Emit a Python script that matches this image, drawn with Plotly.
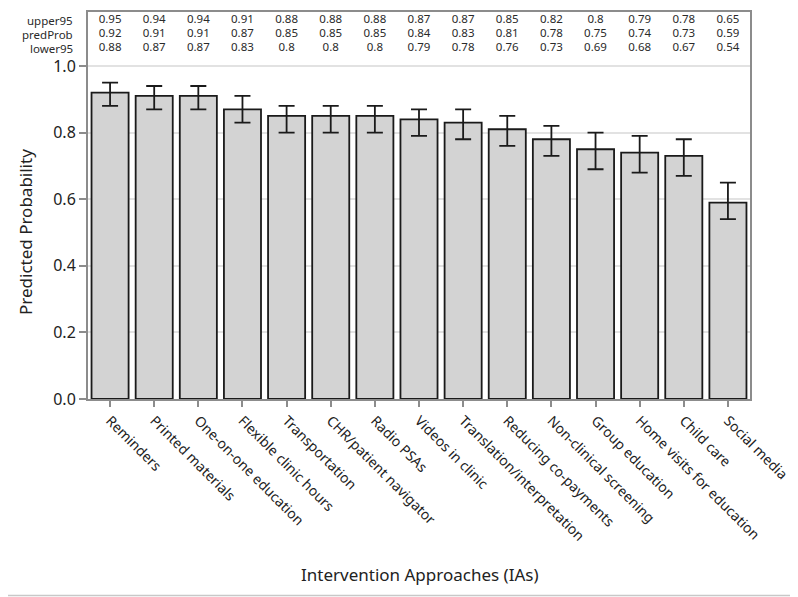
import plotly.graph_objects as go

categories = ["Reminders", "Printed materials", "One-on-one education", "Flexible clinic hours",
              "Transportation", "CHR/patient navigator", "Radio PSAs", "Videos in clinic",
              "Translation/interpretation", "Reducing co-payments", "Non-clinical screening",
              "Group education", "Home visits for education", "Child care", "Social media"]
upper95 = [0.95, 0.94, 0.94, 0.91, 0.88, 0.88, 0.88, 0.87, 0.87, 0.85, 0.82, 0.8, 0.79, 0.78, 0.65]
predProb = [0.92, 0.91, 0.91, 0.87, 0.85, 0.85, 0.85, 0.84, 0.83, 0.81, 0.78, 0.75, 0.74, 0.73, 0.59]
lower95 = [0.88, 0.87, 0.87, 0.83, 0.8, 0.8, 0.8, 0.79, 0.78, 0.76, 0.73, 0.69, 0.68, 0.67, 0.54]
row_labels = ["upper95", "predProb", "lower95"]
y_ticks = [0.0, 0.2, 0.4, 0.6, 0.8, 1.0]

FONT = "Noto Sans"
OFF = 8  # page body margin
W, H = 798 - OFF, 597 - OFF
ML, MR, MT, MB = 88 - OFF, 48, 12 - OFF, 198
PW, PH = W - ML - MR, H - MT - MB
YMAX = 387 / 333.0


def px_x(px):
    return (px - OFF - ML) / PW


def px_y(py):
    return (H - MB - (py - OFF)) / PH


err_plus = [u - p for u, p in zip(upper95, predProb)]
err_minus = [p - l for p, l in zip(predProb, lower95)]

fig = go.Figure()
fig.add_trace(go.Bar(
    x=categories, y=predProb,
    marker=dict(color="#d3d3d3", line=dict(color="#1a1a1a", width=1.8)),
    error_y=dict(type="data", symmetric=False, array=err_plus, arrayminus=err_minus,
                 color="#1a1a1a", thickness=1.8, width=8),
    hoverinfo="skip", showlegend=False,
))

row_y = [1.137, 1.095, 1.053]
for vals, ry in zip([upper95, predProb, lower95], row_y):
    fig.add_trace(go.Scatter(
        x=categories, y=[ry] * len(categories), mode="text",
        text=[f"{v:g}" for v in vals],
        textfont=dict(family=FONT, size=11.5, color="#2a2a2a"),
        hoverinfo="skip", showlegend=False, cliponaxis=False,
    ))
for lab, ry in zip(row_labels, row_y):
    fig.add_annotation(text=lab, xref="paper", yref="y", x=px_x(75), y=ry,
                       xanchor="right", yanchor="middle", showarrow=False,
                       font=dict(family=FONT, size=11.5, color="#2a2a2a"))

# axis titles
fig.add_annotation(text="Intervention Approaches (IAs)", xref="paper", yref="paper",
                   x=px_x(420), y=px_y(574), xanchor="center", yanchor="middle",
                   showarrow=False, font=dict(family=FONT, size=17, color="#222"))
fig.add_annotation(text="Predicted Probability", xref="paper", yref="paper",
                   x=px_x(25), y=px_y(232), xanchor="center", yanchor="middle",
                   textangle=-90, showarrow=False, font=dict(family=FONT, size=17, color="#222"))

# outer frame (right and bottom edges of the image)
fig.add_shape(type="line", xref="paper", yref="paper",
              x0=px_x(796), x1=px_x(796), y0=px_y(595.5), y1=px_y(OFF),
              line=dict(color="#c8c8c8", width=1.5))
fig.add_shape(type="line", xref="paper", yref="paper",
              x0=px_x(OFF), x1=px_x(796), y0=px_y(595.5), y1=px_y(595.5),
              line=dict(color="#c8c8c8", width=1.5))

fig.update_layout(
    width=W, height=H,
    margin=dict(l=ML, r=MR, t=MT, b=MB, autoexpand=False),
    paper_bgcolor="white", plot_bgcolor="white",
    bargap=0.16,
    font=dict(family=FONT, color="#222"),
    xaxis=dict(
        automargin=False,
        tickangle=45, tickfont=dict(family=FONT, size=14, color="#222"),
        showline=True, linecolor="#8c8c8c", linewidth=2, mirror=True,
        ticks="outside", ticklen=6, tickcolor="#8c8c8c", tickwidth=1.5,
        showgrid=False, range=[-0.5, 14.5],
    ),
    yaxis=dict(
        automargin=False,
        range=[0, YMAX], tickvals=y_ticks, ticktext=[f"{v:.1f}" for v in y_ticks],
        tickfont=dict(family=FONT, size=16, color="#222"),
        showline=True, linecolor="#8c8c8c", linewidth=2, mirror=True,
        ticks="outside", ticklen=7, tickcolor="#8c8c8c", tickwidth=1.5,
        showgrid=True, gridcolor="#e2e2e2", gridwidth=1.5, zeroline=False,
    ),
)

fig.write_html("out.html")
